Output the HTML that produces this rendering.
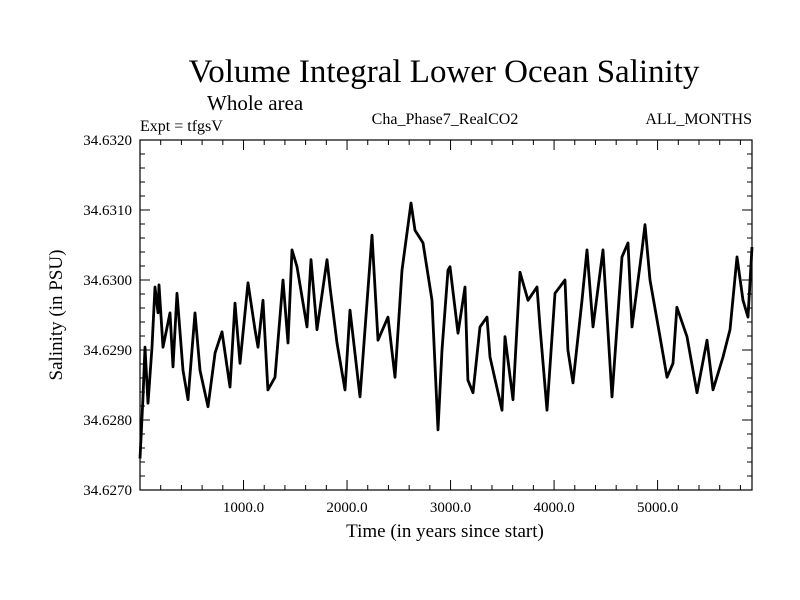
<!DOCTYPE html>
<html><head><meta charset="utf-8"><style>
body{margin:0;background:#fff;}
svg{display:block;font-family:"Liberation Serif",serif;}
</style></head><body>
<svg id="chart" width="800" height="600" xmlns="http://www.w3.org/2000/svg">
<rect width="800" height="600" fill="#fff"/>
<text x="444" y="82" font-size="33" text-anchor="middle">Volume Integral Lower Ocean Salinity</text>
<text x="207" y="110" font-size="21">Whole area</text>
<text x="140" y="131" font-size="16">Expt = tfgsV</text>
<text x="445" y="124" font-size="16" text-anchor="middle">Cha_Phase7_RealCO2</text>
<text x="752" y="124" font-size="16" text-anchor="end">ALL_MONTHS</text>
<g id="axes"></g>
<text transform="translate(62,315) rotate(-90)" font-size="19" text-anchor="middle">Salinity (in PSU)</text>
<text x="445" y="537" font-size="19" text-anchor="middle">Time (in years since start)</text>
</svg>
<script>
const years=[0,29,48,77,116,145,174,184,222,290,319,357,415,464,531,580,657,725,792,869,918,966,1043,1111,1140,1188,1236,1304,1381,1430,1468,1517,1613,1652,1710,1806,1835,1903,1980,2029,2125,2241,2299,2396,2463,2531,2618,2657,2734,2821,2879,2917,2975,2995,3072,3140,3168,3217,3284,3352,3381,3497,3526,3603,3671,3748,3835,3864,3932,4009,4106,4134,4183,4270,4318,4376,4473,4560,4656,4714,4753,4849,4878,4927,5023,5091,5149,5187,5284,5381,5477,5535,5632,5699,5767,5825,5873,5912];
const salinity=[34.62745,34.62833,34.62904,34.62824,34.62904,34.62990,34.62953,34.62993,34.62904,34.62953,34.62876,34.62981,34.62871,34.62829,34.62953,34.62871,34.62819,34.62896,34.62926,34.62847,34.62967,34.62881,34.62996,34.62929,34.62904,34.62971,34.62843,34.62861,34.63000,34.62910,34.63043,34.63019,34.62933,34.63029,34.62929,34.63029,34.62990,34.62910,34.62843,34.62957,34.62833,34.63064,34.62914,34.62947,34.62861,34.63014,34.63110,34.63071,34.63053,34.62971,34.62786,34.62900,34.63014,34.63019,34.62924,34.62990,34.62857,34.62839,34.62933,34.62947,34.62890,34.62814,34.62919,34.62829,34.63011,34.62971,34.62990,34.62933,34.62814,34.62981,34.63000,34.62900,34.62853,34.62971,34.63043,34.62933,34.63043,34.62833,34.63033,34.63053,34.62933,34.63043,34.63079,34.63000,34.62919,34.62861,34.62881,34.62961,34.62919,34.62839,34.62914,34.62843,34.62890,34.62929,34.63033,34.62971,34.62947,34.63047];
const xTicks=[1000,2000,3000,4000,5000];
const xTickLabels=["1000.0","2000.0","3000.0","4000.0","5000.0"];
const yTicks=[34.6270,34.6280,34.6290,34.6300,34.6310,34.6320];
const yTickLabels=["34.6270","34.6280","34.6290","34.6300","34.6310","34.6320"];

const L=140,R=752,T=140,B=490;
const xMin=0,xMax=5912,yMin=34.627,yMax=34.632;
const sx=v=>L+(v-xMin)/(xMax-xMin)*(R-L);
const sy=v=>B-(v-yMin)/(yMax-yMin)*(B-T);
const NS="http://www.w3.org/2000/svg";
const g=document.getElementById('axes');
function mk(t,a){const e=document.createElementNS(NS,t);for(const k in a)e.setAttribute(k,a[k]);g.appendChild(e);return e;}
const frame=mk('rect',{x:L,y:T,width:R-L,height:B-T,fill:'none',stroke:'#000','stroke-width':1.2});


for(let v=200;v<xMax;v+=200){const big=v%1000===0;const x=sx(v);
 mk('line',{x1:x,x2:x,y1:B,y2:B-(big?10:5),stroke:'#000'});
 mk('line',{x1:x,x2:x,y1:T,y2:T+(big?10:5),stroke:'#000'});}
for(let k=0;k<=25;k++){const v=yMin+k*0.0002;const y=sy(v);const big=k%5===0;
 mk('line',{x1:L,x2:L+(big?10:5),y1:y,y2:y,stroke:'#000'});
 mk('line',{x1:R,x2:R-(big?10:5),y1:y,y2:y,stroke:'#000'});}
xTicks.forEach((v,i)=>{const t=mk('text',{x:sx(v),y:B+22,'font-size':15,'text-anchor':'middle'});t.textContent=xTickLabels[i];
 
 });
yTicks.forEach((v,i)=>{const t=mk('text',{x:L-8,y:sy(v)+5,'font-size':15,'text-anchor':'end'});t.textContent=yTickLabels[i];
 
 });
const d=years.map((v,i)=>(i?'L':'M')+sx(v).toFixed(1)+' '+sy(salinity[i]).toFixed(1)).join(' ');
const p=mk('path',{d:d,fill:'none',stroke:'#000','stroke-width':2.8,'stroke-linejoin':'round'});


</script>
</body></html>
